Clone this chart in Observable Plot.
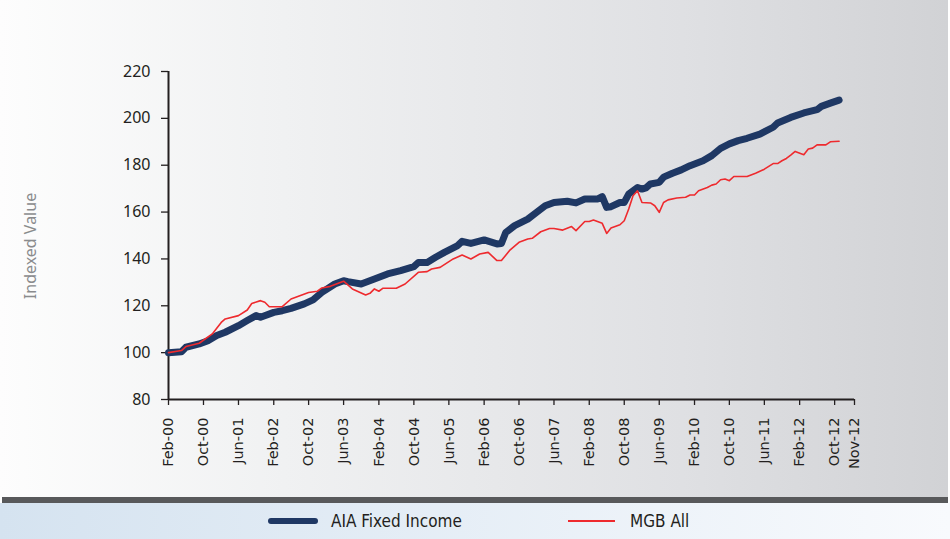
<!DOCTYPE html>
<html><head><meta charset="utf-8">
<script src="https://cdn.jsdelivr.net/npm/d3@7"></script>
<script src="https://cdn.jsdelivr.net/npm/@observablehq/plot@0.6"></script>
<style>
body{margin:0;background:#fff;}
#wrap{position:relative;width:950px;height:539px;overflow:hidden;}
#chartbg{position:absolute;left:0;top:0;width:948px;height:497px;background:linear-gradient(to right,#fdfdfd 0%,#f0f1f2 30%,#dfe0e3 72%,#d1d2d5 100%);}
#chart{position:absolute;left:0;top:0;}
#ylabel{position:absolute;left:30px;top:246px;transform:translate(-50%,-50%) rotate(-90deg);white-space:nowrap;font-family:"Noto Sans","Open Sans",sans-serif;font-size:16px;color:#8a8b8d;}
#bar{position:absolute;left:2px;top:497px;width:946px;height:6px;background:#58595b;}
#legend{position:absolute;left:0;top:503px;width:950px;height:36px;background:linear-gradient(to right,#d5e3f0,#f8fafd);}
.sw{position:absolute;}
.lt{position:absolute;font-family:"Liberation Sans Narrow","DejaVu Sans Condensed","Noto Sans",sans-serif;font-stretch:condensed;font-size:17px;color:#231f20;line-height:20px;}
</style></head>
<body>
<div id="wrap">
  <div id="chartbg"></div>
  <div id="chart"></div>
  <div id="ylabel"></div>
  <div id="bar"></div>
  <div id="legend"></div>
</div>
<script>
// ---- data ----
const seriesNames = ["AIA Fixed Income", "MGB All"];
const seriesColors = ["#1f3864", "#ee2a2e"];

const aiaMonths = ["2000-02","2000-05","2000-06","2000-09","2000-11","2001-01","2001-03","2001-06","2001-08","2001-10","2001-11","2002-02","2002-04","2002-06","2002-09","2002-11","2003-01","2003-04","2003-06","2003-07","2003-10","2004-01","2004-04","2004-07","2004-10","2004-11","2005-01","2005-03","2005-05","2005-08","2005-09","2005-11","2006-02","2006-05","2006-06","2006-07","2006-09","2006-12","2007-02","2007-04","2007-06","2007-09","2007-11","2008-01","2008-04","2008-05","2008-06","2008-07","2008-09","2008-10","2008-11","2009-01","2009-02","2009-03","2009-04","2009-06","2009-07","2009-09","2009-11","2010-01","2010-04","2010-06","2010-08","2010-10","2010-12","2011-02","2011-05","2011-08","2011-09","2011-12","2012-03","2012-06","2012-07","2012-09","2012-11"];
const aiaValues = [100,100.4,102.3,103.7,105.1,107.3,108.7,111.5,113.7,115.8,115.1,117.2,117.9,118.9,120.8,122.5,125.7,129.3,130.7,130.3,129.3,131.4,133.6,135,136.7,138.5,138.5,140.7,142.8,145.7,147.5,146.6,148.1,146.4,146.6,151.3,154.2,157,159.9,162.7,164.1,164.6,163.9,165.6,165.6,166.6,162,162.3,164.1,164.1,167.7,170.5,169.8,170.3,172,172.7,174.9,176.6,178,179.8,181.9,184.1,187.2,189.1,190.5,191.5,193.3,196.2,198,200.4,202.3,203.7,205.1,206.5,207.8];

const mgbMonths = ["2000-02","2000-05","2000-06","2000-09","2000-12","2001-02","2001-03","2001-06","2001-08","2001-09","2001-11","2001-12","2002-01","2002-04","2002-06","2002-08","2002-10","2002-12","2003-01","2003-03","2003-06","2003-08","2003-11","2003-12","2004-01","2004-02","2004-03","2004-06","2004-08","2004-11","2005-01","2005-02","2005-04","2005-07","2005-09","2005-11","2006-01","2006-03","2006-05","2006-06","2006-08","2006-10","2006-12","2007-01","2007-03","2007-05","2007-06","2007-08","2007-10","2007-11","2008-01","2008-02","2008-03","2008-05","2008-06","2008-07","2008-09","2008-10","2008-11","2008-12","2009-01","2009-02","2009-04","2009-05","2009-06","2009-07","2009-08","2009-10","2009-12","2010-01","2010-02","2010-03","2010-05","2010-06","2010-07","2010-08","2010-09","2010-10","2010-11","2011-02","2011-04","2011-06","2011-08","2011-09","2011-10","2011-11","2011-12","2012-01","2012-03","2012-04","2012-05","2012-06","2012-08","2012-09","2012-11"];
const mgbValues = [100,100.9,102.6,104,108,112.9,114.4,115.8,118.2,121,122.2,121.5,119.6,119.6,122.9,124.3,125.7,126.2,127.6,128.3,130.5,127.2,124.6,125.3,127.2,126.2,127.5,127.5,129.3,134.3,134.6,135.7,136.4,140,141.7,140,142.1,142.8,139.3,139.3,143.9,147.1,148.5,148.8,151.6,153,153,152.3,153.8,152.1,156,156,156.6,155.2,150.9,153.2,154.6,156.3,161.3,167,169.1,164.1,163.9,162.7,159.9,164.1,165.2,166,166.3,167.3,167.3,169.1,170.5,171.5,172,173.8,174.1,173.4,175.2,175.2,176.6,178.3,180.7,180.7,181.9,182.9,184.3,185.9,184.5,186.9,187.3,188.7,188.7,190,190.2];

const yTicks = [80,100,120,140,160,180,200,220];
const xTickMonths = ["2000-02","2000-10","2001-06","2002-02","2002-10","2003-06","2004-02","2004-10","2005-06","2006-02","2006-10","2007-06","2008-02","2008-10","2009-06","2010-02","2010-10","2011-06","2012-02","2012-10"];
const xTickLabels = ["Feb-00","Oct-00","Jun-01","Feb-02","Oct-02","Jun-03","Feb-04","Oct-04","Jun-05","Feb-06","Oct-06","Jun-07","Feb-08","Oct-08","Jun-09","Feb-10","Oct-10","Jun-11","Feb-12","Oct-12"];
const xEndLabel = "Nov-12";
const yLabel = "Indexed Value";

// ---- build ----
const parse = d3.utcParse("%Y-%m");
const aia = aiaMonths.map((m, i) => ({date: parse(m), value: aiaValues[i]}));
const mgb = mgbMonths.map((m, i) => ({date: parse(m), value: mgbValues[i]}));
const xStart = parse(xTickMonths[0]);
const xEnd = new Date(Date.UTC(2013, 1, 16));
const tickDates = xTickMonths.map(parse).concat([xEnd]);
const labelMap = new Map(tickDates.map((d, i) => [+d, i < xTickLabels.length ? xTickLabels[i] : xEndLabel]));

const humanist = "'Noto Sans', 'Open Sans', sans-serif";

const chart = Plot.plot({
  width: 950,
  height: 497,
  marginLeft: 168,
  marginRight: 96,
  marginTop: 71,
  marginBottom: 98,
  style: {background: "transparent", overflow: "visible"},
  x: {type: "utc", domain: [xStart, xEnd]},
  y: {domain: [80, 220]},
  marks: [
    Plot.axisY({ticks: yTicks, tickSize: 7, tickPadding: 11, fontSize: 16, label: null, fontFamily: humanist, stroke: "#231f20", strokeWidth: 1.3, color: "#231f20"}),
    Plot.axisX({ticks: tickDates, tickFormat: d => labelMap.get(+d), tickRotate: -90, tickSize: 6, tickPadding: 12, fontSize: 14.5, label: null, fontFamily: "'DejaVu Sans', sans-serif", stroke: "#231f20", strokeWidth: 1.3, color: "#231f20"}),
    Plot.ruleX([xStart], {stroke: "#231f20", strokeWidth: 2}),
    Plot.ruleY([80], {stroke: "#231f20", strokeWidth: 2}),
    Plot.line(aia, {x: "date", y: "value", stroke: seriesColors[0], strokeWidth: 7, strokeLinecap: "round", strokeLinejoin: "round"}),
    Plot.line(mgb, {x: "date", y: "value", stroke: seriesColors[1], strokeWidth: 1.6, strokeLinejoin: "round"})
  ]
});
document.getElementById("chart").appendChild(chart);
document.getElementById("ylabel").textContent = yLabel;

// ---- legend ----
const legend = document.getElementById("legend");
const items = [
  {sw: {left: 268, width: 50, height: 6, radius: 3}, text: 331},
  {sw: {left: 568, width: 47, height: 2, radius: 0}, text: 630}
];
items.forEach((it, i) => {
  const s = document.createElement("div");
  s.className = "sw";
  s.style.left = it.sw.left + "px";
  s.style.top = (18 - it.sw.height / 2) + "px";
  s.style.width = it.sw.width + "px";
  s.style.height = it.sw.height + "px";
  s.style.borderRadius = it.sw.radius + "px";
  s.style.background = seriesColors[i];
  legend.appendChild(s);
  const t = document.createElement("div");
  t.className = "lt";
  t.style.left = it.text + "px";
  t.style.top = "8px";
  t.textContent = seriesNames[i];
  legend.appendChild(t);
});
</script>
</body></html>
